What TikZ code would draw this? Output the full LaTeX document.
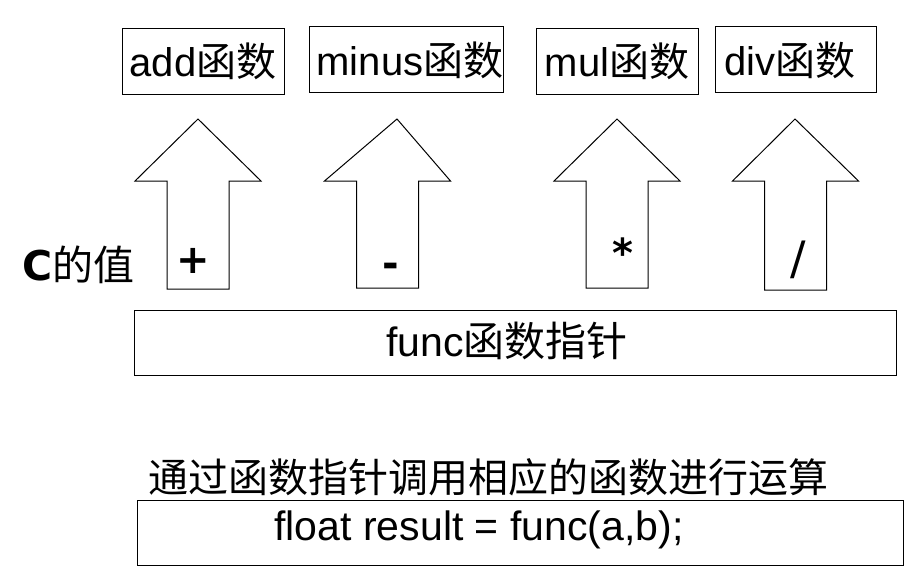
\documentclass[tikz,border=0pt]{standalone}
\usepackage{fontspec}
\setmainfont{Liberation Sans}
\newfontfamily\cjk{Noto Sans CJK SC}
\newfontfamily\opfont{DejaVu Sans}
\tikzset{
  funcbox/.style={draw, line width=1pt, inner sep=0pt, minimum height=65pt,
    font=\fontsize{40}{42}\selectfont},
  bigtext/.style={inner sep=0pt, font=\fontsize{40}{42}\selectfont},
  optext/.style={inner sep=0pt, font=\opfont\bfseries\fontsize{40}{40}\selectfont},
  oparrow/.style={draw, line width=1pt, line join=miter}
}
% block arrow: #1 centre x, #2 tip x, #3 bottom y
\newcommand{\oparrow}[3]{%
  \draw[oparrow] (#1-31,#3) -- (#1-31,181) -- (#1-63,181) -- (#2,119)
    -- (#1+63,181) -- (#1+31,181) -- (#1+31,#3) -- cycle;
}

\begin{document}
\begin{tikzpicture}[x=1pt, y=-1pt]
  \useasboundingbox (0,0) rectangle (920,578);

  % the four functions
  \node[funcbox, minimum width=162pt] (add)   at (203,61.5)   {add{\cjk 函数}};
  \node[funcbox, minimum width=194pt] (minus) at (406,59.5)   {};
  \node[bigtext] (minustext) at (410,60) {minus{\cjk 函数}};
  \node[funcbox, minimum width=162pt] (mul)   at (617,61.5)   {mul{\cjk 函数}};
  \node[funcbox, minimum width=161pt] (div)   at (795.5,59.5) {};
  \node[bigtext] (divtext) at (790,60) {div{\cjk 函数}};

  % arrows from the value of c
  \foreach \x/\t/\b in {198/198/289, 387.5/397/288, 617/617/288, 795.5/795/290}{
    \oparrow{\x}{\t}{\b}
  }

  % operators
  \node[optext] (plus)  at (193,261) {+};
  \node[optext] (sub)   at (391,270) {-};
  \node[optext] (times) at (623,253) {*};
  \node[inner sep=0pt, font=\opfont\fontsize{46}{46}\selectfont] (over) at (798,260) {/};

  \node[bigtext, anchor=west, font=\fontsize{41}{42}\selectfont] (cval) at (22,265)
    {{\opfont\bfseries C}{\cjk 的值}};

  % function pointer
  \node[funcbox, minimum width=762pt] (func) at (515,342.5) {};
  \node[bigtext, font=\fontsize{41}{42}\selectfont] (functext) at (507,341)
    {func{\cjk 函数指针}};

  % call
  \node[bigtext, font=\cjk\fontsize{40}{42}\selectfont] (note) at (488,477)
    {通过函数指针调用相应的函数进行运算};
  \node[funcbox, minimum width=766pt] (call) at (520,532.5) {};
  \node[bigtext, font=\fontsize{41}{44}\selectfont] (calltext) at (479,530)
    {float result = func(a,b);};
\end{tikzpicture}
\end{document}
